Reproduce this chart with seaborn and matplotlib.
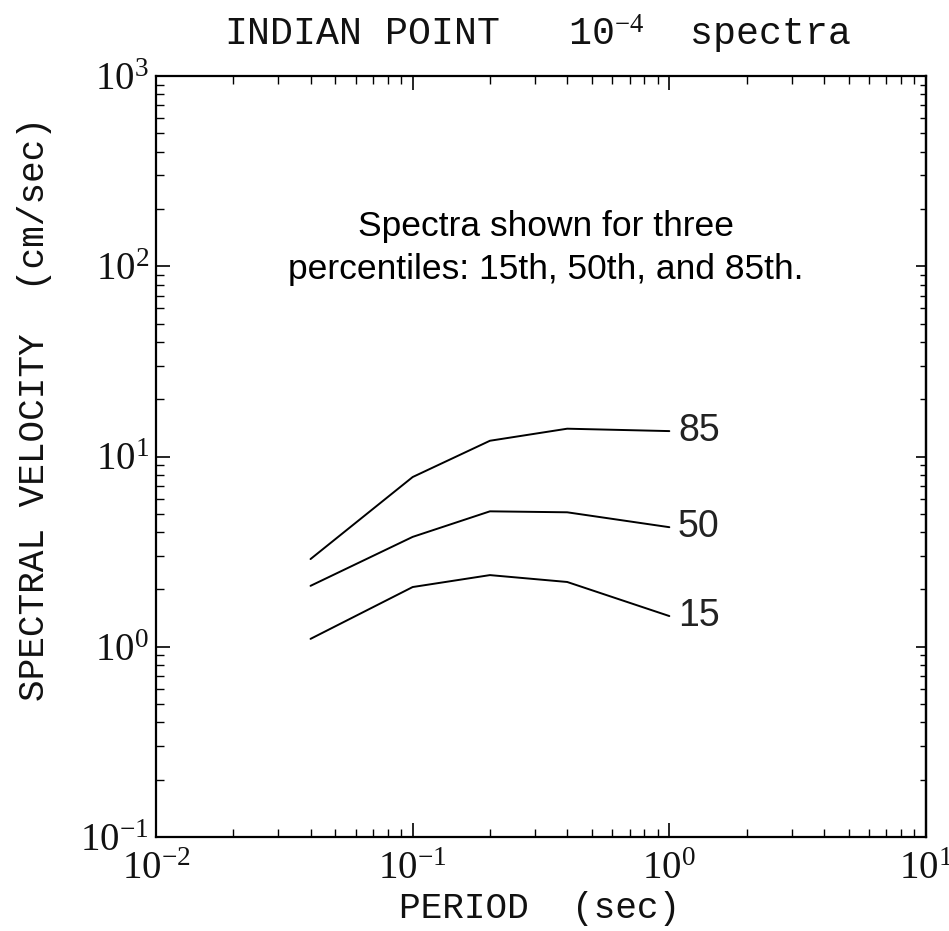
import matplotlib
matplotlib.use("Agg")
import matplotlib.pyplot as plt
import seaborn as sns
import pandas as pd
import numpy as np
from matplotlib.ticker import LogLocator, NullFormatter

periods = [0.04, 0.1, 0.2, 0.4, 1.0]
p85 = [2.89, 7.8, 12.1, 14.0, 13.6]
p50 = [2.09, 3.78, 5.15, 5.09, 4.25]
p15 = [1.10, 2.06, 2.38, 2.19, 1.45]
labels = ["85", "50", "15"]

sns.set_theme(style="white")
plt.rcParams['font.family'] = ['Liberation Serif', 'DejaVu Serif']
plt.rcParams['mathtext.fontset'] = 'custom'
plt.rcParams['mathtext.rm'] = 'Liberation Serif'
plt.rcParams['mathtext.it'] = 'Liberation Serif:italic'
plt.rcParams['mathtext.bf'] = 'Liberation Serif:bold'

df = pd.DataFrame({
    "period": periods * 3,
    "sv": p85 + p50 + p15,
    "pct": [labels[0]] * 5 + [labels[1]] * 5 + [labels[2]] * 5,
})

W, H = 949, 931
fig = plt.figure(figsize=(W / 100, H / 100), dpi=100)
ax = fig.add_axes([156 / W, 1 - 837 / H, (926 - 156) / W, (837 - 76) / H])
sns.lineplot(data=df, x="period", y="sv", hue="pct", palette=["black"] * 3,
             legend=False, ax=ax, linewidth=1.4, sort=False)
ax.set_xscale("log")
ax.set_yscale("log")
ax.set_xlim(1e-2, 1e1)
ax.set_ylim(1e-1, 1e3)
ax.set_xlabel("")
ax.set_ylabel("")

for sp in ax.spines.values():
    sp.set_color("black")
    sp.set_linewidth(1.6)

ax.xaxis.set_major_locator(LogLocator(base=10, numticks=10))
ax.yaxis.set_major_locator(LogLocator(base=10, numticks=10))
ax.xaxis.set_minor_locator(LogLocator(base=10, subs=np.arange(2, 10), numticks=20))
ax.yaxis.set_minor_locator(LogLocator(base=10, subs=np.arange(2, 10), numticks=20))
ax.xaxis.set_minor_formatter(NullFormatter())
ax.yaxis.set_minor_formatter(NullFormatter())
ax.tick_params(which="both", direction="in", top=True, right=False, bottom=True, left=True,
               color="black", labelcolor="#111111")
ax.tick_params(which="major", length=10, width=1.2, labelsize=28)
ax.tick_params(axis="x", which="major", pad=10)
ax.tick_params(axis="y", which="major", pad=5)
ax.tick_params(which="minor", length=5.5, width=1.0)

# shorter ticks on the right side, as in the reference
sec = ax.secondary_yaxis("right")
sec.yaxis.set_major_locator(LogLocator(base=10, numticks=10))
sec.yaxis.set_minor_locator(LogLocator(base=10, subs=np.arange(2, 10), numticks=20))
sec.yaxis.set_minor_formatter(NullFormatter())
sec.tick_params(which="both", direction="in", labelright=False, color="black")
sec.tick_params(which="major", length=7, width=1.2)
sec.tick_params(which="minor", length=4, width=1.0)
sec.spines["right"].set_linewidth(1.6)
sec.spines["right"].set_color("black")

mono = ['Liberation Mono', 'DejaVu Sans Mono']
fig.text(538 / W, 1 - 45 / H, r"INDIAN POINT   10$^{-4}$  spectra", ha="center", va="baseline",
         fontsize=27.5, family=mono, color="#111111")
fig.text(540 / W, 1 - 918 / H, "PERIOD  (sec)", ha="center", va="baseline",
         fontsize=26, family=mono, color="#111111")
fig.text(35 / W, 1 - 409 / H, "SPECTRAL VELOCITY  (cm/sec)", ha="center", va="center",
         rotation=90, fontsize=26, family=mono, color="#111111")

fig.text(546 / W, 1 - 236 / H, "Spectra shown for three", ha="center", va="baseline",
         fontsize=25.5, family="Liberation Sans", color="black")
fig.text(546 / W, 1 - 279 / H, "percentiles: 15th, 50th, and 85th.", ha="center", va="baseline",
         fontsize=25.5, family="Liberation Sans", color="black")

for lab, vals in zip(labels, [p85, p50, p15]):
    ax.text(periods[-1] * 1.08, vals[-1], lab, ha="left", va="center",
            fontsize=27, family="Liberation Sans", color="#222222")

fig.savefig("out.png", dpi=100)
